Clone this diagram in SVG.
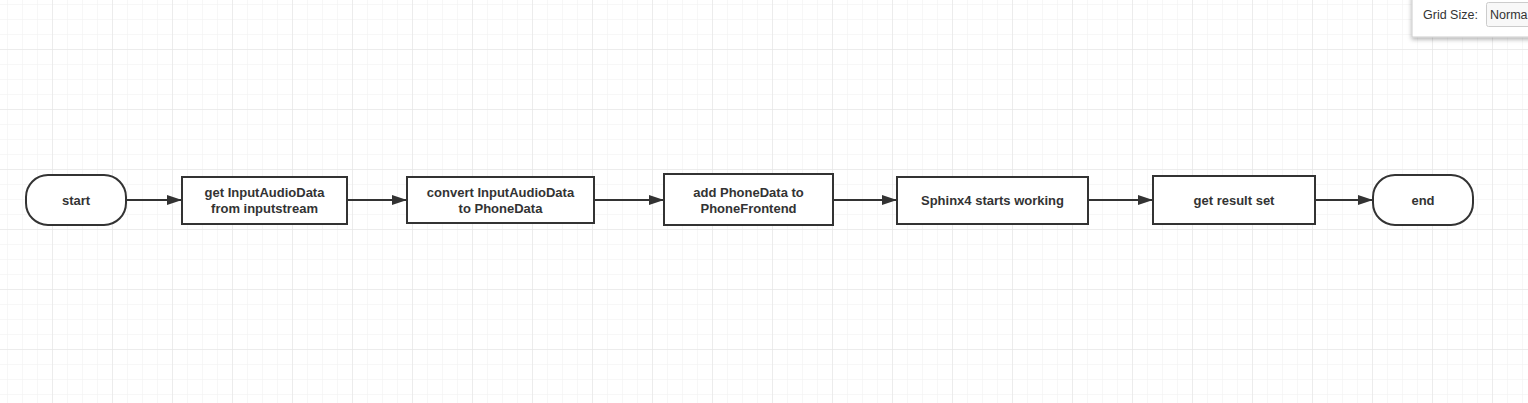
<svg xmlns="http://www.w3.org/2000/svg" width="1528" height="403" viewBox="0 0 1528 403">
<defs>
<pattern id="minor" x="7" y="4" width="15" height="15" patternUnits="userSpaceOnUse">
<path d="M0 0H15M0 0V15" fill="none" stroke="#efefef" stroke-width="1"/>
</pattern>
<pattern id="major" x="52" y="49" width="60" height="60" patternUnits="userSpaceOnUse">
<path d="M0 0H60M0 0V60" fill="none" stroke="#e2e2e2" stroke-width="1"/>
</pattern>
<marker id="arr" viewBox="0 0 15 10" refX="15" refY="5" markerWidth="15" markerHeight="10" markerUnits="userSpaceOnUse" orient="auto">
<path d="M0 0L15 5L0 10Z" fill="#333"/>
</marker>
<filter id="sh" x="-20%" y="-50%" width="140%" height="200%">
<feDropShadow dx="0" dy="2" stdDeviation="2" flood-color="#000" flood-opacity="0.3"/>
</filter>
</defs>
<style>
.n{fill:#fff;stroke:#333;stroke-width:2}
.t{font-family:"Liberation Sans",Arial,sans-serif;font-size:13px;font-weight:bold;fill:#333;text-anchor:middle}
.c{fill:none;stroke:#333;stroke-width:2;marker-end:url(#arr)}
.p{font-family:"Liberation Sans",Arial,sans-serif;font-size:12.5px;fill:#333}
</style>
<rect width="1528" height="403" fill="#fff"/>
<rect width="1528" height="403" fill="url(#minor)"/>
<rect width="1528" height="403" fill="url(#major)"/>
<g id="connectors">
<path class="c" d="M126 200H182"/>
<path class="c" d="M347 200H407"/>
<path class="c" d="M594 200H664"/>
<path class="c" d="M833 200H897"/>
<path class="c" d="M1088 200H1153"/>
<path class="c" d="M1315 200H1373"/>
</g>
<g id="start">
<rect class="n" x="26" y="175" width="100" height="50" rx="22" ry="22"/>
<text class="t" x="76" y="205">start</text>
</g>
<g id="get-input">
<rect class="n" x="182" y="177" width="165" height="47"/>
<text class="t" x="264.5" y="197">get InputAudioData</text>
<text class="t" x="264.5" y="213">from inputstream</text>
</g>
<g id="convert">
<rect class="n" x="407" y="177" width="187" height="46"/>
<text class="t" x="500.5" y="197">convert InputAudioData</text>
<text class="t" x="500.5" y="213">to PhoneData</text>
</g>
<g id="add-phone">
<rect class="n" x="664" y="174" width="169" height="51"/>
<text class="t" x="748.5" y="197">add PhoneData to</text>
<text class="t" x="748.5" y="213">PhoneFrontend</text>
</g>
<g id="sphinx">
<rect class="n" x="897" y="177" width="191" height="47"/>
<text class="t" x="992.5" y="205">Sphinx4 starts working</text>
</g>
<g id="result">
<rect class="n" x="1153" y="176" width="162" height="48"/>
<text class="t" x="1234" y="205">get result set</text>
</g>
<g id="end">
<rect class="n" x="1373" y="175" width="100" height="50" rx="22" ry="22"/>
<text class="t" x="1423" y="205">end</text>
</g>
<g id="grid-panel">
<rect x="1412" y="-5" width="130" height="42" fill="#fff" stroke="#ccc" stroke-width="1" filter="url(#sh)"/>
<text class="p" x="1423" y="19">Grid Size:</text>
<rect x="1486.5" y="2.5" width="50" height="24" rx="2" fill="#f8f8f8" stroke="#ccc" stroke-width="1"/>
<text class="p" x="1490" y="19">Norma</text>
</g>
</svg>
